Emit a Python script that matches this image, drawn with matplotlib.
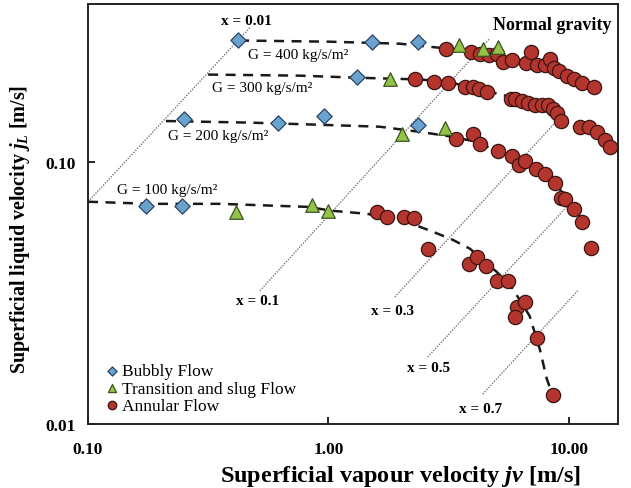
import matplotlib.pyplot as plt
from matplotlib.ticker import FixedLocator, FixedFormatter, NullLocator

plt.rcParams['font.family'] = ['Liberation Serif', 'DejaVu Serif']
plt.rcParams['mathtext.fontset'] = 'custom'
plt.rcParams['mathtext.rm'] = 'Liberation Serif:bold'
plt.rcParams['mathtext.it'] = 'Liberation Serif:bold:italic'
plt.rcParams['mathtext.bf'] = 'Liberation Serif:bold'

# ------------------------------------------------------------
# DATA
# ------------------------------------------------------------

# bubbly flow points
bubbly_jv = [0.420, 1.52, 2.36, 1.31, 0.251, 0.617, 0.958, 2.36, 0.174, 0.246]
bubbly_jl = [0.292, 0.285, 0.285, 0.211, 0.145, 0.140, 0.150, 0.138, 0.0679, 0.0679]

# transition and slug flow points
slug_jv = [3.49, 4.39, 5.07, 1.80, 2.02, 3.05, 0.412, 0.854, 0.995]
slug_jl = [0.280, 0.270, 0.275, 0.207, 0.128, 0.134, 0.0645, 0.0685, 0.0650]

# annular flow points, one pair of lists per mass flux
annular_400_jv = [3.08, 3.91, 4.27, 4.65, 5.02, 5.32, 5.80, 6.63, 6.95, 7.36, 7.95, 8.34,
                  8.66, 9.09, 9.81, 10.5, 11.4, 12.7]
annular_400_jl = [0.270, 0.263, 0.258, 0.256, 0.258, 0.241, 0.245, 0.237, 0.263, 0.233, 0.233,
                  0.247, 0.227, 0.221, 0.213, 0.206, 0.199, 0.192]
annular_300_jv = [2.29, 2.75, 3.14, 3.69, 3.99, 4.22, 4.56, 5.74, 5.97, 6.38, 6.75, 7.22,
                  7.72, 8.18, 8.58, 8.91, 9.26, 11.1, 12.2, 13.1, 14.1, 14.8]
annular_300_jl = [0.206, 0.202, 0.200, 0.193, 0.192, 0.190, 0.185, 0.174, 0.173, 0.171, 0.168,
                  0.165, 0.164, 0.165, 0.159, 0.153, 0.143, 0.136, 0.136, 0.130, 0.121, 0.114]
annular_200_jv = [3.39, 3.99, 4.27, 5.07, 5.80, 6.20, 6.56, 7.29, 7.95, 8.75, 9.26, 9.63,
                  10.5, 11.4, 12.4]
annular_200_jl = [0.122, 0.128, 0.117, 0.110, 0.105, 0.097, 0.101, 0.094, 0.090, 0.083, 0.073,
                  0.072, 0.066, 0.059, 0.047]
annular_100_jv = [1.59, 1.75, 2.06, 2.27, 2.59, 3.84, 4.14, 4.52, 5.02, 5.58, 6.08, 6.56,
                  5.97, 7.36, 8.58]
annular_100_jl = [0.0645, 0.0617, 0.0617, 0.0611, 0.0466, 0.0408, 0.0434, 0.0401, 0.0351,
                  0.0351, 0.0280, 0.0292, 0.0256, 0.0213, 0.0129]

# constant mass flux curves (dashed)
mass_flux_labels = ['G = 100 kg/s/m²', 'G = 200 kg/s/m²', 'G = 300 kg/s/m²', 'G = 400 kg/s/m²']
curve_100_jv = [0.100, 0.181, 0.354, 0.814, 1.04, 1.45, 2.12, 2.72, 3.29, 3.88, 5.02, 5.85,
                6.88, 7.58, 8.10, 8.58]
curve_100_jl = [0.0704, 0.0691, 0.0691, 0.0673, 0.0650, 0.0633, 0.0590, 0.0541, 0.0504, 0.0466,
                0.0380, 0.0328, 0.0258, 0.0193, 0.0149, 0.0128]
curve_200_jv = [0.211, 0.472, 1.01, 1.64, 2.40, 3.20, 3.99, 5.17, 6.26, 7.36, 8.10, 8.83,
                9.53, 10.6, 11.4]
curve_200_jl = [0.143, 0.141, 0.138, 0.136, 0.130, 0.125, 0.120, 0.109, 0.102, 0.095, 0.090,
                0.084, 0.074, 0.066, 0.060]
curve_300_jv = [0.316, 0.761, 1.35, 2.40, 3.11, 3.88, 5.02, 5.80, 6.69, 7.80, 8.42, 8.91, 9.26]
curve_300_jl = [0.215, 0.213, 0.209, 0.206, 0.202, 0.193, 0.182, 0.176, 0.171, 0.165, 0.159,
                0.154, 0.145]
curve_400_jv = [0.425, 1.01, 1.98, 2.91, 3.88, 5.17, 6.69, 8.34, 9.63, 11.4, 12.7]
curve_400_jl = [0.290, 0.287, 0.282, 0.272, 0.263, 0.252, 0.239, 0.231, 0.217, 0.202, 0.192]

# constant vapour quality lines (dotted), start and end points
quality_labels = ['x = 0.01', 'x = 0.1', 'x = 0.3', 'x = 0.5', 'x = 0.7']
quality_jv = [(0.100, 0.472), (0.519, 4.69), (1.89, 8.91), (2.59, 9.81), (4.39, 10.9)]
quality_jl = [(0.0704, 0.325), (0.0322, 0.295), (0.0305, 0.143), (0.0180, 0.0673), (0.0130, 0.0322)]

x_ticks = [0.1, 1.0, 10.0]
x_tick_labels = ['0.10', '1.00', '10.00']
y_ticks = [0.01, 0.1]
y_tick_labels = ['0.01', '0.10']

# ------------------------------------------------------------
# DRAWING
# ------------------------------------------------------------

fig = plt.figure(figsize=(6.31, 4.89), dpi=100)
ax = fig.add_axes([0.1395, 0.131, 0.8395, 0.859])
ax.set_xscale('log')
ax.set_yscale('log')
ax.set_xlim(0.1, 16.0)
ax.set_ylim(0.01, 0.40)

# quality lines
for (x0, x1), (y0, y1) in zip(quality_jv, quality_jl):
    ax.plot([x0, x1], [y0, y1], linestyle=(0, (1, 1)), color='#777777', lw=1.0, zorder=1)

# mass flux curves
curves = [(curve_100_jv, curve_100_jl), (curve_200_jv, curve_200_jl),
          (curve_300_jv, curve_300_jl), (curve_400_jv, curve_400_jl)]
for jv, jl in curves:
    ax.plot(jv, jl, linestyle=(0, (4, 3)), color='#1a1a1a', lw=1.8, zorder=2)

# markers
red = '#b3352d'
ax.scatter(bubbly_jv, bubbly_jl, marker='D', s=60, color='#6aa2cf', edgecolor='#2b4460',
           linewidth=0.9, zorder=4, label='Bubbly Flow')
ax.scatter(slug_jv, slug_jl, marker='^', s=95, color='#93c447', edgecolor='#3c5220',
           linewidth=0.9, zorder=4, label='Transition and slug Flow')
ann_jv = annular_400_jv + annular_300_jv + annular_200_jv + annular_100_jv
ann_jl = annular_400_jl + annular_300_jl + annular_200_jl + annular_100_jl
ax.scatter(ann_jv, ann_jl, marker='o', s=105, color=red, edgecolor='#3a1512',
           linewidth=0.9, zorder=3, label='Annular Flow')

# labels of the curves
ax.text(0.463, 0.256, mass_flux_labels[3], fontsize=11, va='center', ha='left')
ax.text(0.328, 0.192, mass_flux_labels[2], fontsize=11, va='center', ha='left')
ax.text(0.215, 0.126, mass_flux_labels[1], fontsize=11, va='center', ha='left')
ax.text(0.132, 0.0782, mass_flux_labels[0], fontsize=11, va='center', ha='left')

q_pos = [(0.458, 0.345), (0.509, 0.0295), (1.84, 0.0270), (2.62, 0.01636), (4.31, 0.01141)]
for (qx, qy), lab in zip(q_pos, quality_labels):
    ax.text(qx, qy, lab, fontsize=11, fontweight='bold', ha='center', va='center')

ax.text(0.989, 0.952, 'Normal gravity', transform=ax.transAxes, fontsize=13,
        fontweight='bold', ha='right', va='center')

# axes styling
for sp in ax.spines.values():
    sp.set_linewidth(1.4)
    sp.set_color('#222222')
ax.xaxis.set_major_locator(FixedLocator(x_ticks))
ax.xaxis.set_major_formatter(FixedFormatter(x_tick_labels))
ax.yaxis.set_major_locator(FixedLocator(y_ticks))
ax.yaxis.set_major_formatter(FixedFormatter(y_tick_labels))
ax.xaxis.set_minor_locator(NullLocator())
ax.yaxis.set_minor_locator(NullLocator())
ax.tick_params(direction='in', length=5, width=1.2, labelsize=12.5, pad=9)
ax.tick_params(axis='x', pad=12)
for lab in ax.get_xticklabels() + ax.get_yticklabels():
    lab.set_fontweight('bold')

ax.set_xlabel(r'Superficial vapour velocity $jv$ [m/s]', fontsize=17.5, fontweight='bold')
ax.set_ylabel(r'Superficial liquid velocity $j_L$ [m/s]', fontsize=14.5, fontweight='bold')
ax.xaxis.set_label_coords(0.59, -0.092)
ax.yaxis.set_label_coords(-0.105, 0.465)

ax.legend(loc='lower left', bbox_to_anchor=(0.005, 0.0), frameon=False, fontsize=12.5,
          handletextpad=0.0, labelspacing=0.05, markerscale=0.6, handlelength=1.2,
          borderaxespad=0.2)

fig.savefig('out.png', dpi=100)
